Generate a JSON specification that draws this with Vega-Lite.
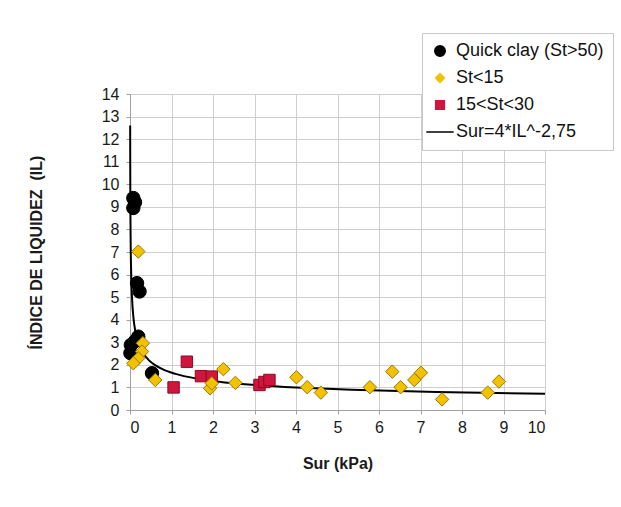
{
  "$schema": "https://vega.github.io/schema/vega-lite/v6.json",
  "width": 415,
  "height": 316,
  "autosize": "none",
  "padding": {"left": 130, "top": 94, "right": 76, "bottom": 97},
  "background": "white",
  "config": {
    "font": "Liberation Sans",
    "view": {"stroke": null},
    "axis": {
      "gridColor": "#cfcfcf",
      "gridWidth": 1,
      "domainColor": "#a0a0a0",
      "tickColor": "#a0a0a0",
      "tickSize": 4,
      "labelFontSize": 16,
      "labelColor": "#1a1a1a",
      "titleFontSize": 16,
      "titleFontWeight": "bold",
      "titleColor": "#1a1a1a",
      "labelFont": "Liberation Sans",
      "titleFont": "Liberation Sans",
      "labelOverlap": false
    }
  },
  "datasets": {
    "pts": [
      {"series": "Quick clay (St>50)", "sur": 0.08, "il": 9.39},
      {"series": "Quick clay (St>50)", "sur": 0.12, "il": 9.2},
      {"series": "Quick clay (St>50)", "sur": 0.08, "il": 8.95},
      {"series": "Quick clay (St>50)", "sur": 0.17, "il": 5.62},
      {"series": "Quick clay (St>50)", "sur": 0.23, "il": 5.25},
      {"series": "Quick clay (St>50)", "sur": 0.2, "il": 3.25},
      {"series": "Quick clay (St>50)", "sur": 0.02, "il": 2.88},
      {"series": "Quick clay (St>50)", "sur": 0.01, "il": 2.52},
      {"series": "Quick clay (St>50)", "sur": 0.12, "il": 3.05},
      {"series": "Quick clay (St>50)", "sur": 0.53, "il": 1.63},
      {"series": "15<St<30", "sur": 1.37, "il": 2.14},
      {"series": "15<St<30", "sur": 1.05, "il": 1.0},
      {"series": "15<St<30", "sur": 1.71, "il": 1.5},
      {"series": "15<St<30", "sur": 1.97, "il": 1.48},
      {"series": "15<St<30", "sur": 3.12, "il": 1.11},
      {"series": "15<St<30", "sur": 3.24, "il": 1.24},
      {"series": "15<St<30", "sur": 3.36, "il": 1.33},
      {"series": "St<15", "sur": 0.2, "il": 7.02},
      {"series": "St<15", "sur": 0.31, "il": 2.96},
      {"series": "St<15", "sur": 0.29, "il": 2.59},
      {"series": "St<15", "sur": 0.2, "il": 2.29},
      {"series": "St<15", "sur": 0.08, "il": 2.07},
      {"series": "St<15", "sur": 0.61, "il": 1.33},
      {"series": "St<15", "sur": 2.25, "il": 1.81},
      {"series": "St<15", "sur": 1.93, "il": 0.96},
      {"series": "St<15", "sur": 1.97, "il": 1.18},
      {"series": "St<15", "sur": 2.54, "il": 1.2},
      {"series": "St<15", "sur": 4.01, "il": 1.45},
      {"series": "St<15", "sur": 4.27, "il": 1.01},
      {"series": "St<15", "sur": 4.6, "il": 0.77},
      {"series": "St<15", "sur": 5.78, "il": 1.01},
      {"series": "St<15", "sur": 6.32, "il": 1.7},
      {"series": "St<15", "sur": 6.52, "il": 1.01},
      {"series": "St<15", "sur": 6.85, "il": 1.33},
      {"series": "St<15", "sur": 7.01, "il": 1.65},
      {"series": "St<15", "sur": 7.52, "il": 0.47},
      {"series": "St<15", "sur": 8.62, "il": 0.77},
      {"series": "St<15", "sur": 8.89, "il": 1.26}
    ],
    "curve": [
      {"series": "Sur=4*IL^-2,75", "sur": 0.0038, "il": 12.6},
      {"series": "Sur=4*IL^-2,75", "sur": 0.0071, "il": 10.0},
      {"series": "Sur=4*IL^-2,75", "sur": 0.0131, "il": 8.0},
      {"series": "Sur=4*IL^-2,75", "sur": 0.029, "il": 6.0},
      {"series": "Sur=4*IL^-2,75", "sur": 0.048, "il": 5.0},
      {"series": "Sur=4*IL^-2,75", "sur": 0.088, "il": 4.0},
      {"series": "Sur=4*IL^-2,75", "sur": 0.128, "il": 3.5},
      {"series": "Sur=4*IL^-2,75", "sur": 0.195, "il": 3.0},
      {"series": "Sur=4*IL^-2,75", "sur": 0.26, "il": 2.7},
      {"series": "Sur=4*IL^-2,75", "sur": 0.322, "il": 2.5},
      {"series": "Sur=4*IL^-2,75", "sur": 0.458, "il": 2.2},
      {"series": "Sur=4*IL^-2,75", "sur": 0.595, "il": 2.0},
      {"series": "Sur=4*IL^-2,75", "sur": 0.794, "il": 1.8},
      {"series": "Sur=4*IL^-2,75", "sur": 1.098, "il": 1.6},
      {"series": "Sur=4*IL^-2,75", "sur": 1.586, "il": 1.4},
      {"series": "Sur=4*IL^-2,75", "sur": 1.944, "il": 1.3},
      {"series": "Sur=4*IL^-2,75", "sur": 2.423, "il": 1.2},
      {"series": "Sur=4*IL^-2,75", "sur": 3.078, "il": 1.1},
      {"series": "Sur=4*IL^-2,75", "sur": 4.0, "il": 1.0},
      {"series": "Sur=4*IL^-2,75", "sur": 4.606, "il": 0.95},
      {"series": "Sur=4*IL^-2,75", "sur": 5.344, "il": 0.9},
      {"series": "Sur=4*IL^-2,75", "sur": 6.253, "il": 0.85},
      {"series": "Sur=4*IL^-2,75", "sur": 7.388, "il": 0.8},
      {"series": "Sur=4*IL^-2,75", "sur": 8.509, "il": 0.76},
      {"series": "Sur=4*IL^-2,75", "sur": 10.0, "il": 0.72}
    ]
  },
  "encoding": {
    "x": {"field": "sur", "type": "quantitative",
      "scale": {"domain": [0, 10], "nice": false},
      "axis": {"title": "Sur (kPa)", "values": [0,1,2,3,4,5,6,7,8,9,10], "labelPadding": 5, "titlePadding": 20}},
    "y": {"field": "il", "type": "quantitative",
      "scale": {"domain": [0, 14], "nice": false},
      "axis": {"title": "ÍNDICE DE LIQUIDEZ \u00a0(IL)", "values": [0,1,2,3,4,5,6,7,8,9,10,11,12,13,14], "labelPadding": 7, "titlePadding": 57}}
  },
  "layer": [
    {
      "data": {"name": "curve"},
      "mark": {"type": "line", "strokeWidth": 2, "interpolate": "monotone"},
      "encoding": {
        "order": {"field": "sur", "type": "quantitative"},
        "color": {"field": "series", "type": "nominal",
          "scale": {"domain": ["Quick clay (St>50)", "St<15", "15<St<30", "Sur=4*IL^-2,75"],
                    "range": ["#000000", "#F2C100", "#D0163E", "#000000"]},
          "legend": {
            "title": null,
            "orient": "none",
            "legendX": 292,
            "legendY": -61,
            "padding": 9,
            "fillColor": "white",
            "strokeColor": "#c8c8c8",
            "labelFontSize": 18,
            "labelFont": "Liberation Sans",
            "labelColor": "#111111",
            "labelLimit": 300,
            "symbolSize": 90,
            "rowPadding": 9,
            "labelOffset": 7,
            "symbolStrokeWidth": 1.5,
            "symbolStrokeColor": "#000000",
            "encode": {
              "symbols": {"update": {
                "stroke": {"signal": "datum.value === 'St<15' ? '#9A7A00' : datum.value === '15<St<30' ? '#8B0A20' : '#000000'"},
                "size": {"signal": "datum.value === 'Sur=4*IL^-2,75' ? 750 : datum.value === 'Quick clay (St>50)' ? 110 : 75"}
              }}
            }
          }}
      }
    },
    {
      "data": {"name": "pts"},
      "transform": [{"filter": "datum.series === 'Quick clay (St>50)'"}],
      "mark": {"type": "point", "filled": true, "opacity": 1, "size": 180, "stroke": "#000000", "strokeWidth": 1},
      "encoding": {
        "color": {"field": "series", "type": "nominal"},
        "shape": {"field": "series", "type": "nominal",
          "scale": {"domain": ["Quick clay (St>50)", "St<15", "15<St<30", "Sur=4*IL^-2,75"],
                    "range": ["circle", "diamond", "square", "stroke"]}}
      }
    },
    {
      "data": {"name": "pts"},
      "transform": [{"filter": "datum.series === '15<St<30'"}],
      "mark": {"type": "point", "filled": true, "opacity": 1, "size": 130, "stroke": "#8B0A20", "strokeWidth": 1},
      "encoding": {
        "color": {"field": "series", "type": "nominal"},
        "shape": {"field": "series", "type": "nominal"}
      }
    },
    {
      "data": {"name": "pts"},
      "transform": [{"filter": "datum.series === 'St<15'"}],
      "mark": {"type": "point", "filled": true, "opacity": 1, "size": 180, "stroke": "#9A7A00", "strokeWidth": 1},
      "encoding": {
        "color": {"field": "series", "type": "nominal"},
        "shape": {"field": "series", "type": "nominal"}
      }
    }
  ]
}
